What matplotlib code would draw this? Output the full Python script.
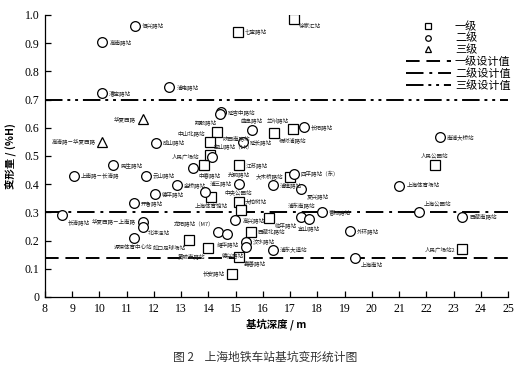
import matplotlib
matplotlib.use("Agg")
import matplotlib.pyplot as plt
from matplotlib.lines import Line2D

plt.rcParams['font.family'] = ['Liberation Serif', 'Noto Sans CJK SC', 'DejaVu Sans']
CJK = ['Noto Sans CJK SC', 'DejaVu Sans']

# --- 数据：一级（方块） ---
x_l1 = [17.13, 15.07, 14.31, 14.04, 16.39, 17.09, 13.82, 15.11, 14.09, 15.11, 15.19,
        16.24, 17.00, 15.56, 13.27, 14.00, 15.11, 14.86, 22.31, 23.32, 14.05]
y_l1 = [0.985, 0.941, 0.586, 0.551, 0.580, 0.596, 0.468, 0.468, 0.356, 0.338, 0.308,
        0.281, 0.427, 0.232, 0.202, 0.173, 0.143, 0.082, 0.468, 0.170, 0.505]
n_l1 = ['徐家汇站', '七宝路站', '陕西南路站', '中山北路站', '杨树浦路站', '兰州路站',
        '人民广场站', '江苏路站', '上海体育馆站', '中央公园站', '大柏树站', '临平路站',
        '大木桥路站', '西藏北路站', '虹口足球场站', '黄陂南路站', '嘉善路站', '长安路站',
        '人民公园站', '人民广场站2', '宝山路站（LK）']
p_l1 = ['br', 'r', 'br', 'al', 'br', 'al', 'al', 'r', 'b', 'a', 'ar',
        'br', 'l', 'r', 'bl', 'bl', 'br', 'l', 'a', 'l', 'ar']

# --- 二级（圆） ---
x_l2 = [11.31, 10.11, 10.08, 12.57, 12.08, 14.47, 14.41, 15.60, 15.27, 17.50, 22.49,
        10.51, 9.07, 11.70, 13.42, 12.86, 13.88, 15.11, 17.13, 16.36, 17.41, 12.04,
        11.25, 8.64, 11.58, 11.58, 11.25, 14.99, 17.40, 17.68, 18.17, 19.21, 14.37,
        14.70, 15.39, 15.39, 16.36, 21.01, 21.75, 23.32, 19.40, 14.13]
y_l2 = [0.962, 0.903, 0.722, 0.744, 0.547, 0.655, 0.649, 0.592, 0.549, 0.602, 0.568,
        0.468, 0.430, 0.430, 0.456, 0.397, 0.373, 0.401, 0.436, 0.397, 0.383, 0.364,
        0.332, 0.291, 0.267, 0.249, 0.208, 0.273, 0.285, 0.277, 0.300, 0.234, 0.232,
        0.223, 0.196, 0.178, 0.167, 0.395, 0.300, 0.285, 0.137, 0.495]
n_l2 = ['恒兴路站', '高南路站', '漕宝路站', '浦电路站', '成山路站', '延吉中路站', '翔殷路站',
        '曲阜路站', '延长路站', '长阳路站', '南浦大桥站', '民生路站', '上南路－长清路',
        '云山路站', '中春路站', '金桥路站', '浦三路站', '光明路站', '四平路站（东）',
        '浦建路站', '夏兴路站', '德平路站', '开鲁路站', '长清路站', '华夏西路－上南路',
        '北洋泾站', '源深体育中心站', '高兴路站', '浦东南路站', '宜山路站', '曹杨路站',
        '外环路站', '龙阳路站（M7）', '耀华路站', '汶水路站', '德兴路站', '浦东大道站',
        '上海体育场站', '上海公园站', '西藏南路站', '上海南站', '']
p_l2 = ['r', 'r', 'r', 'r', 'r', 'r', 'bl', 'a', 'r', 'r', 'r',
        'r', 'r', 'r', 'br', 'r', 'ar', 'a', 'r', 'r', 'br', 'r',
        'r', 'br', 'l', 'br', 'b', 'r', 'a', 'b', 'r', 'r', 'al',
        'b', 'r', 'bl', 'r', 'r', 'ar', 'r', 'br', 'r']

# --- 三级（三角） ---
x_l3 = [11.59, 10.11]
y_l3 = [0.630, 0.551]
n_l3 = ['华夏西路', '高清路－华夏西路']
p_l3 = ['l', 'l']

# 设计值
limit_l1, limit_l2, limit_l3 = 0.14, 0.30, 0.70

xticks = list(range(8, 26))
yticks = [0, 0.1, 0.2, 0.3, 0.4, 0.5, 0.6, 0.7, 0.8, 0.9, 1.0]
ylabels = ['0', '0.1', '0.2', '0.3', '0.4', '0.5', '0.6', '0.7', '0.8', '0.9', '1.0']

fig = plt.figure(figsize=(5.30, 3.74), dpi=100)
ax = fig.add_axes([0.0849, 0.2059, 0.8736, 0.754])

mk = dict(linestyle='none', markerfacecolor='white', markeredgecolor='black',
          markeredgewidth=0.9, color='black')
ax.plot(x_l1, y_l1, marker='s', markersize=6.5, zorder=3, **mk)
ax.plot(x_l2, y_l2, marker='o', markersize=7, zorder=3, **mk)
ax.plot(x_l3, y_l3, marker='^', markersize=7, zorder=3, **mk)

ls1 = (0, (7, 3.5))
ls2 = (0, (9, 3, 1.5, 3))
ls3 = (0, (9, 2.5, 1.5, 2.5, 1.5, 2.5))
ax.axhline(limit_l1, color='black', lw=1.4, linestyle=ls1, zorder=2)
ax.axhline(limit_l2, color='black', lw=1.4, linestyle=ls2, zorder=2)
ax.axhline(limit_l3, color='black', lw=1.4, linestyle=ls3, zorder=2)

# 站名标注
offs = {'r': (5, 0, 'left', 'center'), 'l': (-5, 0, 'right', 'center'),
        'a': (0, 5, 'center', 'bottom'), 'b': (0, -5, 'center', 'top'),
        'ar': (3, 4, 'left', 'bottom'), 'al': (-3, 4, 'right', 'bottom'),
        'br': (4, -3, 'left', 'top'), 'bl': (-2, -4, 'right', 'top')}
for xs, ys, ns, ps in [(x_l1, y_l1, n_l1, p_l1), (x_l2, y_l2, n_l2, p_l2),
                       (x_l3, y_l3, n_l3, p_l3)]:
    for xv, yv, nm, pp in zip(xs, ys, ns, ps):
        if not nm:
            continue
        dx, dy, ha, va = offs[pp]
        ax.annotate(nm, (xv, yv), xytext=(dx, dy), textcoords='offset points',
                    ha=ha, va=va, fontsize=4, family=CJK, color='#222222')

ax.set_xlim(8, 25)
ax.set_ylim(0, 1.0)
ax.set_xticks(xticks)
ax.set_yticks(yticks)
ax.set_yticklabels(ylabels)
ax.tick_params(direction='in', length=4, width=0.9, labelsize=8.5, pad=4)
for s in ['top', 'right']:
    ax.spines[s].set_visible(False)
for s in ['left', 'bottom']:
    ax.spines[s].set_linewidth(0.9)

ax.set_xlabel('基坑深度 / m', family=CJK, fontsize=7.5, fontweight='bold', labelpad=3)
ax.set_ylabel('变形量 / (%H)', family=CJK, fontsize=7.5, fontweight='bold', labelpad=6)

handles = [
    Line2D([], [], marker='s', markersize=4, **mk),
    Line2D([], [], marker='o', markersize=4, **mk),
    Line2D([], [], marker='^', markersize=4, **mk),
    Line2D([], [], color='black', lw=1.4, linestyle=ls1),
    Line2D([], [], color='black', lw=1.4, linestyle=ls2),
    Line2D([], [], color='black', lw=1.4, linestyle=ls3),
]
labels = ['一级', '二级', '三级', '一级设计值', '二级设计值', '三级设计值']
leg = ax.legend(handles, labels, loc='upper right', bbox_to_anchor=(1.02, 1.0),
                frameon=False, prop={'family': CJK, 'size': 8}, handlelength=4,
                handletextpad=0.4, labelspacing=0.1, numpoints=1, borderaxespad=0.2)

fig.text(0.5, 0.045, '图 2    上海地铁车站基坑变形统计图', ha='center', va='center',
         family=CJK, fontsize=8.5, color='#333333')

fig.savefig('out.png', dpi=100)
